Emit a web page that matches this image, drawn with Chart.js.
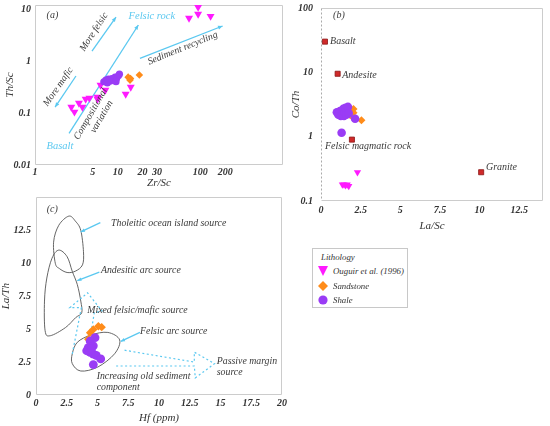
<!DOCTYPE html>
<html>
<head>
<meta charset="utf-8">
<script src="https://cdn.jsdelivr.net/npm/chart.js@4.4.0/dist/chart.umd.min.js"></script>
<style>
  body { margin: 0; background: #fff; width: 550px; height: 426px; position: relative; overflow: hidden; }
  canvas { position: absolute; }
  #legend { position: absolute; left: 312px; top: 248px; width: 94px; height: 58px; border: 1px solid #c8c8c8;
            font-family: "Liberation Serif", serif; font-style: italic; font-size: 8.8px; color: #333; }
  #legend div { position: absolute; white-space: nowrap; line-height: 12px; }
  #legend svg { position: absolute; }
</style>
</head>
<body>
<canvas id="chartA" width="290" height="195" style="left:0;top:0"></canvas>
<canvas id="chartB" width="260" height="234" style="left:290px;top:0"></canvas>
<canvas id="chartC" width="290" height="233" style="left:0;top:193px"></canvas>

<div id="legend">
  <div style="left:8px;top:2px">Lithology</div>
  <svg width="10" height="10" style="left:5px;top:17px"><polygon points="0,0 10,0 5,10" fill="#ff1aff"/></svg>
  <div style="left:20px;top:16px">Ouguir et al. (1996)</div>
  <svg width="10" height="10" style="left:5px;top:32px"><polygon points="5,0 10,5 5,10 0,5" fill="#ff8c1a"/></svg>
  <div style="left:20px;top:31px">Sandstone</div>
  <svg width="10" height="10" style="left:5px;top:46px"><circle cx="5" cy="5" r="4.6" fill="#9a3cf5"/></svg>
  <div style="left:20px;top:45px">Shale</div>
</div>

<script>
// ---- panel (a): Th/Sc vs Zr/Sc ----
const aOuguirZr = [2.75, 3.0, 3.4, 3.75, 4.1, 4.55, 5.7, 5.7, 6.2, 7.1, 12.5, 14.4, 73, 94, 94, 133];
const aOuguirTh = [0.13, 0.105, 0.155, 0.13, 0.186, 0.194, 0.203, 0.186, 0.345, 0.277, 0.232, 0.316, 6.7, 8.0, 10.9, 7.3];
const aSandZr = [13.4, 14.1, 14.3, 18.3];
const aSandTh = [0.49, 0.43, 0.46, 0.54];
const aShaleZr = [6.8, 7.2, 7.7, 8.1, 8.5, 8.9, 9.3, 9.7, 10.2, 10.5, 9.55, 7.5];
const aShaleTh = [0.40, 0.43, 0.45, 0.41, 0.46, 0.43, 0.49, 0.46, 0.52, 0.56, 0.40, 0.38];
const aXTicks = [1, 5, 10, 20, 30, 100, 200];
const aYTicks = [0.01, 0.1, 1, 10];

// ---- panel (b): Co/Th vs La/Sc ----
const bOuguirLa = [1.35, 1.45, 1.55, 1.65, 1.75, 2.3];
const bOuguirCo = [0.18, 0.18, 0.175, 0.18, 0.17, 0.28];
const bSandLa = [2.05, 2.05, 1.85, 2.55];
const bSandCo = [2.7, 2.35, 2.15, 1.8];
const bShaleLa = [1.0, 1.1, 1.2, 1.25, 1.35, 1.4, 1.45, 1.5, 1.55, 1.6, 1.7, 1.75, 2.15, 1.3];
const bShaleCo = [2.4, 2.2, 2.5, 2.1, 2.3, 2.7, 2.1, 2.4, 2.8, 2.2, 2.9, 2.3, 1.9, 1.15];
const bRockNames = ["Basalt", "Andesite", "Felsic magmatic rock", "Granite"];
const bRockLa = [0.25, 1.05, 1.95, 10.1];
const bRockCo = [30, 9.5, 0.9, 0.28];
const bXTicks = [0, 2.5, 5, 7.5, 10, 12.5];
const bYTicks = [0.1, 1, 10, 100];

// ---- panel (c): La/Th vs Hf ----
const cSandHf = [4.25, 4.4, 4.66, 5.07, 5.34];
const cSandLaTh = [4.23, 4.72, 4.98, 5.22, 5.15];
const cShaleHf = [4.8, 4.4, 4.25, 4.66, 4.4, 4.66, 4.9, 5.26, 4.66, 4.12, 4.5];
const cShaleLaTh = [4.35, 4.1, 3.6, 3.73, 3.23, 3.11, 3.0, 2.74, 2.31, 3.36, 3.5];
const cXTicks = [0, 2.5, 5, 7.5, 10, 12.5, 15, 17.5, 20];
const cYTicks = [0, 2.5, 5, 7.5, 10, 12.5];
const tholeiticOutline = [[2.67, 13.58], [3.2, 13.2], [3.64, 12.5], [3.86, 10.88], [3.78, 9.88], [3.2, 9.4],
  [2.53, 9.3], [1.9, 9.6], [1.57, 10.0], [1.43, 11.6], [1.85, 12.88]];
const andesiticOutline = [[1.85, 11.0], [2.53, 10.5], [2.95, 9.38], [3.36, 8.38], [3.64, 7.13], [3.72, 6.25],
  [3.22, 5.87], [2.4, 5.12], [1.16, 4.5], [0.74, 4.88], [0.69, 7.13], [0.88, 8.88], [1.3, 10.38]];
const felsicArcOutline = [[2.95, 3.13], [3.36, 4.0], [4.46, 4.55], [5.84, 4.75], [6.8, 4.18], [6.39, 3.13],
  [5.02, 2.12], [3.64, 1.82], [2.95, 2.38]];

const FONT = '"Liberation Serif", "DejaVu Serif", serif';
const CYAN = '#5ac8f0';
const TEXT = '#3a3a3a';
const MAGENTA = '#ff1aff', ORANGE = '#ff8c1a', PURPLE = '#9a3cf5';

const toPts = (xs, ys) => xs.map((x, i) => ({ x: x, y: ys[i] }));
const tickFont = { family: FONT, size: 10, style: 'italic', weight: 'bold' };
const titleFont = { family: FONT, size: 11, style: 'italic' };

function axis(type, min, max, ticks, title, size, pad, titlePad) {
  return {
    type: type, min: min, max: max,
    grid: { display: false, drawTicks: false }, border: { display: false },
    ticks: { font: tickFont, color: '#333', padding: pad, autoSkip: false, maxRotation: 0, callback: v => String(v) },
    title: { display: true, text: title, font: titleFont, color: '#333', padding: titlePad },
    afterBuildTicks: s => { s.ticks = ticks.map(v => ({ value: v })); },
    afterFit: s => {
      if (s.isHorizontal()) s.height = size; else s.width = size;
      s.paddingTop = 0; s.paddingBottom = 0; s.paddingLeft = 0; s.paddingRight = 0;
    }
  };
}

function P(chart, x, y) {
  return [chart.scales.x.getPixelForValue(x), chart.scales.y.getPixelForValue(y)];
}

function arrow(ctx, a, b, head, dashed) {
  ctx.save();
  ctx.strokeStyle = CYAN; ctx.fillStyle = CYAN; ctx.lineWidth = 1.3;
  if (dashed) ctx.setLineDash([2, 2]);
  ctx.beginPath(); ctx.moveTo(a[0], a[1]); ctx.lineTo(b[0], b[1]); ctx.stroke();
  const ang = Math.atan2(b[1] - a[1], b[0] - a[0]);
  ctx.setLineDash([]);
  ctx.beginPath();
  ctx.moveTo(b[0], b[1]);
  ctx.lineTo(b[0] - head * Math.cos(ang - 0.4), b[1] - head * Math.sin(ang - 0.4));
  ctx.lineTo(b[0] - head * Math.cos(ang + 0.4), b[1] - head * Math.sin(ang + 0.4));
  ctx.closePath(); ctx.fill();
  ctx.restore();
}

function dashedPath(ctx, pts) {
  ctx.save();
  ctx.strokeStyle = CYAN; ctx.lineWidth = 1.2; ctx.setLineDash([2, 2.5]);
  ctx.beginPath();
  pts.forEach((p, i) => i ? ctx.lineTo(p[0], p[1]) : ctx.moveTo(p[0], p[1]));
  ctx.stroke();
  ctx.restore();
}

function closedCurve(ctx, pts) {
  const n = pts.length;
  ctx.save();
  ctx.strokeStyle = '#555'; ctx.lineWidth = 0.9;
  ctx.beginPath();
  ctx.moveTo(pts[0][0], pts[0][1]);
  for (let i = 0; i < n; i++) {
    const p0 = pts[(i - 1 + n) % n], p1 = pts[i], p2 = pts[(i + 1) % n], p3 = pts[(i + 2) % n];
    const t = 1 / 6;
    ctx.bezierCurveTo(p1[0] + (p2[0] - p0[0]) * t, p1[1] + (p2[1] - p0[1]) * t,
                      p2[0] - (p3[0] - p1[0]) * t, p2[1] - (p3[1] - p1[1]) * t, p2[0], p2[1]);
  }
  ctx.closePath(); ctx.stroke();
  ctx.restore();
}

function text(ctx, p, str, opt) {
  opt = opt || {};
  ctx.save();
  ctx.font = 'italic ' + (opt.size || 9.8) + 'px ' + FONT;
  ctx.fillStyle = opt.color || TEXT;
  ctx.textAlign = opt.align || 'left';
  ctx.textBaseline = 'middle';
  ctx.translate(p[0], p[1]);
  if (opt.rot) ctx.rotate(opt.rot * Math.PI / 180);
  ctx.fillText(str, 0, 0);
  ctx.restore();
}

function frame(ctx, area, dashedLeft) {
  ctx.save();
  ctx.strokeStyle = '#cccccc'; ctx.lineWidth = 1;
  const l = Math.round(area.left) + 0.5, r = Math.round(area.right) - 0.5;
  const t = Math.round(area.top) + 0.5, b = Math.round(area.bottom) - 0.5;
  ctx.beginPath();
  ctx.moveTo(l, b); ctx.lineTo(r, b); ctx.lineTo(r, t); ctx.lineTo(l, t);
  if (!dashedLeft) ctx.lineTo(l, b);
  ctx.stroke();
  if (dashedLeft) {
    ctx.setLineDash([2, 2]); ctx.strokeStyle = '#aaaaaa';
    ctx.beginPath(); ctx.moveTo(l, t); ctx.lineTo(l, b); ctx.stroke();
  }
  ctx.restore();
}

const ouguirStyle = { pointStyle: 'triangle', rotation: 180, backgroundColor: MAGENTA, borderColor: MAGENTA, pointRadius: 4.6, borderWidth: 0 };
const sandStyle = { pointStyle: 'rectRot', backgroundColor: ORANGE, borderColor: ORANGE, pointRadius: 4, borderWidth: 0 };
const shaleStyle = { pointStyle: 'circle', backgroundColor: PURPLE, borderColor: PURPLE, pointRadius: 4, borderWidth: 0 };

function baseOptions(x, y, padding) {
  return {
    responsive: false, animation: false, events: [],
    layout: { padding: padding },
    plugins: { legend: { display: false }, tooltip: { enabled: false } },
    scales: { x: x, y: y }
  };
}

// ---------- chart (a) ----------
new Chart(document.getElementById('chartA'), {
  type: 'scatter',
  data: {
    datasets: [
      Object.assign({ data: toPts(aShaleZr, aShaleTh) }, shaleStyle, { pointRadius: 3.6 }),
      Object.assign({ data: toPts(aSandZr, aSandTh) }, sandStyle, { pointRadius: 3.8 }),
      Object.assign({ data: toPts(aOuguirZr, aOuguirTh) }, ouguirStyle)
    ]
  },
  options: baseOptions(
    axis('logarithmic', 1, 1000, aXTicks, 'Zr/Sc', 30, 1, { top: 0, bottom: 5 }),
    axis('logarithmic', 0.01, 12, aYTicks, 'Th/Sc', 35, 4, { top: 4, bottom: 0 }),
    { top: 5, right: 7, left: 0, bottom: 0 }),
  plugins: [{
    id: 'annA',
    beforeDatasetsDraw(chart) {
      const ctx = chart.ctx;
      frame(ctx, chart.chartArea, false);
      arrow(ctx, P(chart, 4.89, 1.56), P(chart, 9.55, 7.05), 5);
      arrow(ctx, P(chart, 2.58, 0.0407), P(chart, 17.8, 4.95), 5);
      arrow(ctx, P(chart, 3.13, 0.516), P(chart, 1.75, 0.13), 5);
      arrow(ctx, P(chart, 18.6, 1.13), P(chart, 186, 4.73), 5);
    },
    afterDatasetsDraw(chart) {
      const ctx = chart.ctx;
      text(ctx, P(chart, 1.38, 7.7), '(a)', { size: 10 });
      text(ctx, P(chart, 5.17, 3.63), 'More felsic', { align: 'center', rot: -57 });
      text(ctx, P(chart, 1.91, 0.32), 'More mafic', { align: 'center', rot: -55 });
      text(ctx, P(chart, 25.9, 7.4), 'Felsic rock', { align: 'center', color: CYAN, size: 10.5 });
      text(ctx, P(chart, 2.0, 0.0232), 'Basalt', { align: 'center', color: CYAN, size: 10.5 });
      text(ctx, P(chart, 61.2, 1.76), 'Sediment recycling', { align: 'center', rot: -22 });
      text(ctx, P(chart, 4.72, 0.096), 'Compositional', { align: 'center', rot: -60 });
      text(ctx, P(chart, 6.41, 0.085), 'variation', { align: 'center', rot: -60 });
    }
  }]
});

// ---------- chart (b) ----------
new Chart(document.getElementById('chartB'), {
  type: 'scatter',
  data: {
    datasets: [
      Object.assign({ data: toPts(bShaleLa, bShaleCo) }, shaleStyle, { pointRadius: 4.3 }),
      Object.assign({ data: toPts(bSandLa, bSandCo) }, sandStyle),
      Object.assign({ data: toPts(bOuguirLa, bOuguirCo) }, ouguirStyle, { pointRadius: 4.2 }),
      { data: toPts(bRockLa, bRockCo), pointStyle: 'rect', pointRadius: 3.6, backgroundColor: '#d02a2a', borderColor: '#8a1515', borderWidth: 0.8 }
    ]
  },
  options: baseOptions(
    axis('linear', 0, 14, bXTicks, 'La/Sc', 33, 3, { top: 0, bottom: 1 }),
    axis('logarithmic', 0.1, 100, bYTicks, 'Co/Th', 31, 8, { top: 0, bottom: 0 }),
    { top: 8, right: 7, left: 0, bottom: 0 }),
  plugins: [{
    id: 'annB',
    beforeDatasetsDraw(chart) { frame(chart.ctx, chart.chartArea, true); },
    afterDatasetsDraw(chart) {
      const ctx = chart.ctx;
      text(ctx, P(chart, 0.76, 77), '(b)', { size: 10 });
      const offs = [[0.32, 1.0], [0.29, 0.93], [-1.7, 0.78], [0.3, 1.18]];
      bRockNames.forEach((n, i) => {
        text(ctx, P(chart, bRockLa[i] + offs[i][0], bRockCo[i] * offs[i][1]), n, { size: 10 });
      });
    }
  }]
});

// ---------- chart (c) ----------
new Chart(document.getElementById('chartC'), {
  type: 'scatter',
  data: {
    datasets: [
      Object.assign({ data: toPts(cShaleHf, cShaleLaTh) }, shaleStyle, { pointRadius: 4.4 }),
      Object.assign({ data: toPts(cSandHf, cSandLaTh) }, sandStyle, { pointRadius: 4.2 })
    ]
  },
  options: baseOptions(
    axis('linear', 0, 20, cXTicks, 'Hf (ppm)', 31, 2, { top: 0, bottom: 1.5 }),
    axis('linear', 0, 15, cYTicks, 'La/Th', 36, 5, { top: 0, bottom: 0 }),
    { top: 1, right: 8, left: 0, bottom: 0 }),
  plugins: [{
    id: 'annC',
    beforeDatasetsDraw(chart) {
      const ctx = chart.ctx;
      frame(ctx, chart.chartArea, false);
      const map = pts => pts.map(p => P(chart, p[0], p[1]));
      closedCurve(ctx, map(tholeiticOutline));
      closedCurve(ctx, map(andesiticOutline));
      closedCurve(ctx, map(felsicArcOutline));
      dashedPath(ctx, map([[2.95, 3.13], [3.69, 6.63], [2.75, 6.63], [4.19, 7.75], [5.37, 6.38], [4.74, 6.25], [4.46, 4.65]]));
      dashedPath(ctx, map([[7.2, 3.4], [12.87, 2.5], [12.87, 3.25], [14.52, 2.38], [12.95, 1.3], [12.87, 2.2], [6.4, 2.2]]));
      arrow(ctx, P(chart, 5.23, 13.08), P(chart, 3.64, 12.38), 4.5);
      arrow(ctx, P(chart, 5.15, 9.33), P(chart, 3.36, 8.68), 4.5);
      arrow(ctx, P(chart, 8.45, 4.75), P(chart, 6.89, 4.07), 4.5);
    },
    afterDatasetsDraw(chart) {
      const ctx = chart.ctx;
      text(ctx, P(chart, 0.87, 14.1), '(c)', { size: 10 });
      text(ctx, P(chart, 6.1, 13.0), 'Tholeitic ocean island source');
      text(ctx, P(chart, 5.28, 9.46), 'Andesitic arc source');
      text(ctx, P(chart, 4.17, 6.4), 'Mixed felsic/mafic source');
      text(ctx, P(chart, 8.46, 4.8), 'Felsic arc source');
      text(ctx, P(chart, 14.7, 2.56), 'Passive margin');
      text(ctx, P(chart, 14.7, 1.69), 'source');
      text(ctx, P(chart, 4.93, 1.44), 'Increasing old sediment');
      text(ctx, P(chart, 4.93, 0.57), 'component');
    }
  }]
});
</script>
</body>
</html>
